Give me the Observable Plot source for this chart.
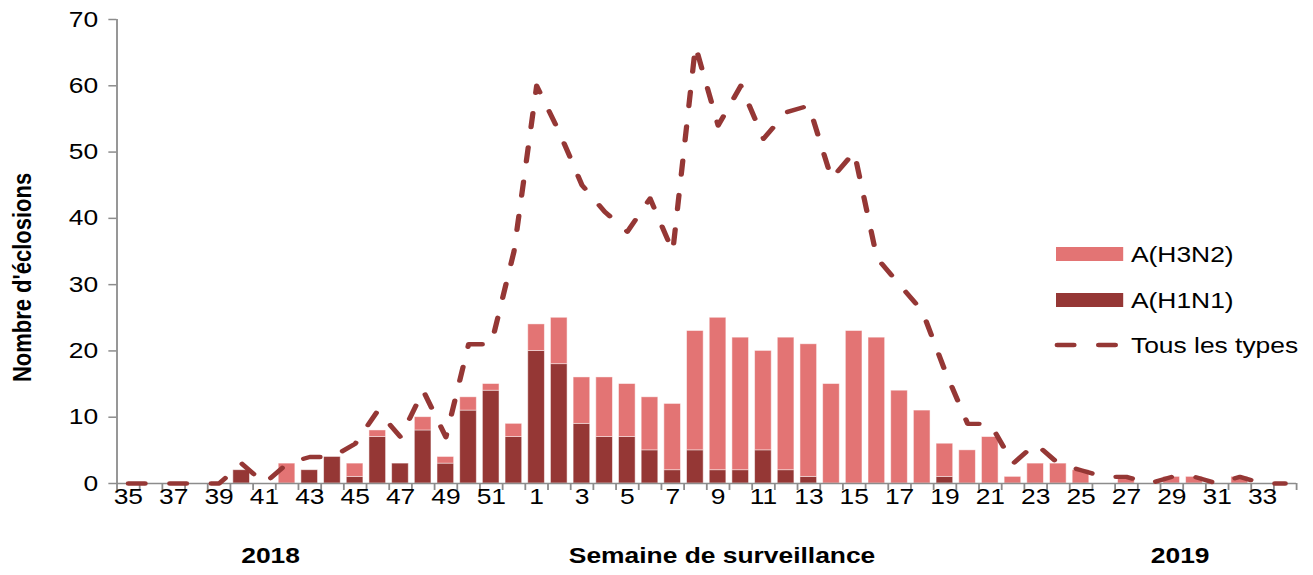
<!DOCTYPE html>
<html><head><meta charset="utf-8">
<script src="https://cdn.jsdelivr.net/npm/d3@7"></script>
<script src="https://cdn.jsdelivr.net/npm/@observablehq/plot@0.6"></script>
<style>
html,body{margin:0;padding:0;background:#fff;overflow:hidden;}
#wrap{position:relative;width:1094px;height:575px;transform:scaleX(1.2);transform-origin:0 0;font-family:"Liberation Sans",Arial,sans-serif;}
#legend{position:absolute;left:0;top:0;pointer-events:none;}
</style></head><body><div id="wrap"></div>
<script>
// Semaines de surveillance 2018-2019
const weeks = ["35","36","37","38","39","40","41","42","43","44","45","46","47","48","49","50","51","52",
  "1","2","3","4","5","6","7","8","9","10","11","12","13","14","15","16","17","18","19","20",
  "21","22","23","24","25","26","27","28","29","30","31","32","33","34"];
const h1n1 = [0,0,0,0,0,2,0,0,2,4,1,7,3,8,3,11,14,7,
  20,18,9,7,7,5,2,5,2,2,5,2,1,0,0,0,0,0,1,0,0,0,0,0,0,0,0,0,0,0,0,0,0,0];
const h3n2 = [0,0,0,0,0,0,0,3,0,0,2,1,0,2,1,2,1,2,
  4,7,7,9,8,8,10,18,23,20,15,20,20,15,23,22,14,11,5,5,7,1,3,3,2,0,1,0,1,1,0,1,0,0];
const total = [0,0,0,0,0,3,0,3,4,4,6,11,7,14,7,21,21,35,
  60,53,45,41,38,43,35,66,54,60,52,56,57,46,50,34,30,26,17,9,9,3,6,3,2,1,1,0,1,1,0,1,0,0];
const yTicks = [0,10,20,30,40,50,60,70];
const xTickLabels = weeks.filter((d, i) => i % 2 === 0);
const seriesNames = ["A(H3N2)", "A(H1N1)", "Tous les types"];
const seriesColors = ["#E37474", "#953735", "#953735"];

const W = 1094, H = 575, ML = 97, MR = 14, MT = 19, MB = 92;
const step = (W - ML - MR) / weeks.length;
const pxPerUnit = (H - MT - MB) / 70;
const tickLen = 7 / pxPerUnit;
const gray = "#8c8c8c";
const dash = "14,20.5";

const rows = weeks.flatMap((w, i) => [
  {week: w, type: seriesNames[1], value: h1n1[i]},
  {week: w, type: seriesNames[0], value: h3n2[i]}
]).filter(d => d.value > 0);
const lineRows = weeks.map((w, i) => ({week: w, total: total[i]}));

const chart = Plot.plot({
  width: W, height: H,
  marginLeft: ML, marginRight: MR, marginTop: MT, marginBottom: MB,
  style: {fontFamily: '"Liberation Sans", Arial, sans-serif', fontSize: "22px", color: "#000", background: "white"},
  x: {type: "band", domain: weeks, paddingInner: 0.265, paddingOuter: 0.1325, round: false, axis: null},
  y: {domain: [0, 70], axis: null},
  color: {domain: seriesNames.slice(0, 2), range: seriesColors.slice(0, 2)},
  marks: [
    Plot.barY(rows, {x: "week", y: "value", fill: "type", order: [seriesNames[1], seriesNames[0]],
      stroke: "white", strokeOpacity: 0.55, strokeWidth: 0.8}),
    Plot.ruleY([0], {stroke: gray, strokeWidth: 1.6}),
    Plot.ruleX([weeks[0]], {x: d => d, y1: 0, y2: 70, dx: -step / 2, stroke: gray, strokeWidth: 1.5}),
    Plot.ruleX(weeks, {x: d => d, y1: 0, y2: -tickLen, dx: -step / 2, stroke: gray, strokeWidth: 1.5, clip: false}),
    Plot.ruleX([weeks[weeks.length - 1]], {x: d => d, y1: 0, y2: -tickLen, dx: step / 2, stroke: gray, strokeWidth: 1.5, clip: false}),
    Plot.axisY({ticks: yTicks, tickSize: 6.7, tickPadding: 9, fontSize: 22, stroke: gray, strokeWidth: 1.5, fill: "#000", label: null}),
    Plot.axisX({ticks: xTickLabels, tickSize: 0, tickPadding: 4.5, fontSize: 22, fill: "#000", label: null}),
    Plot.line(lineRows, {x: "week", y: "total", stroke: seriesColors[2], strokeWidth: 4.4,
      strokeDasharray: dash, strokeLinecap: "round", strokeLinejoin: "round"}),
    Plot.text(["Nombre d'éclosions"], {frameAnchor: "left", rotate: -90, dx: -78.7, dy: 26,
      fontSize: 22, fontWeight: "bold", fill: "#000", textAnchor: "middle"}),
    Plot.text(["Semaine de surveillance"], {frameAnchor: "bottom", dx: 12.7, dy: 79,
      fontSize: 22, fontWeight: "bold", fill: "#000", textAnchor: "middle"}),
    Plot.text(["2018"], {frameAnchor: "bottom-left", dx: 128, dy: 79,
      fontSize: 22, fontWeight: "bold", fill: "#000", textAnchor: "middle"}),
    Plot.text(["2019"], {frameAnchor: "bottom-right", dx: -97, dy: 79,
      fontSize: 22, fontWeight: "bold", fill: "#000", textAnchor: "middle"})
  ]
});
const wrap = document.getElementById("wrap");
wrap.appendChild(chart);

// Legend
const leg = d3.create("svg").attr("id", "legend").attr("width", W).attr("height", H)
  .style("font-family", '"Liberation Sans", Arial, sans-serif').style("font-size", "22px");
const legY = [254, 300, 345];
seriesNames.forEach((name, i) => {
  const g = leg.append("g");
  if (i < 2) {
    g.append("rect").attr("x", 880).attr("y", legY[i] - 7).attr("width", 56).attr("height", 14).attr("fill", seriesColors[i]);
  } else {
    g.append("line").attr("x1", 881).attr("x2", 936).attr("y1", legY[i]).attr("y2", legY[i])
      .attr("stroke", seriesColors[i]).attr("stroke-width", 4.4).attr("stroke-dasharray", dash).attr("stroke-linecap", "round");
  }
  g.append("text").attr("x", 942.5).attr("y", legY[i]).attr("dy", "0.35em").attr("fill", "#000").text(name);
});
wrap.appendChild(leg.node());
</script></body></html>
